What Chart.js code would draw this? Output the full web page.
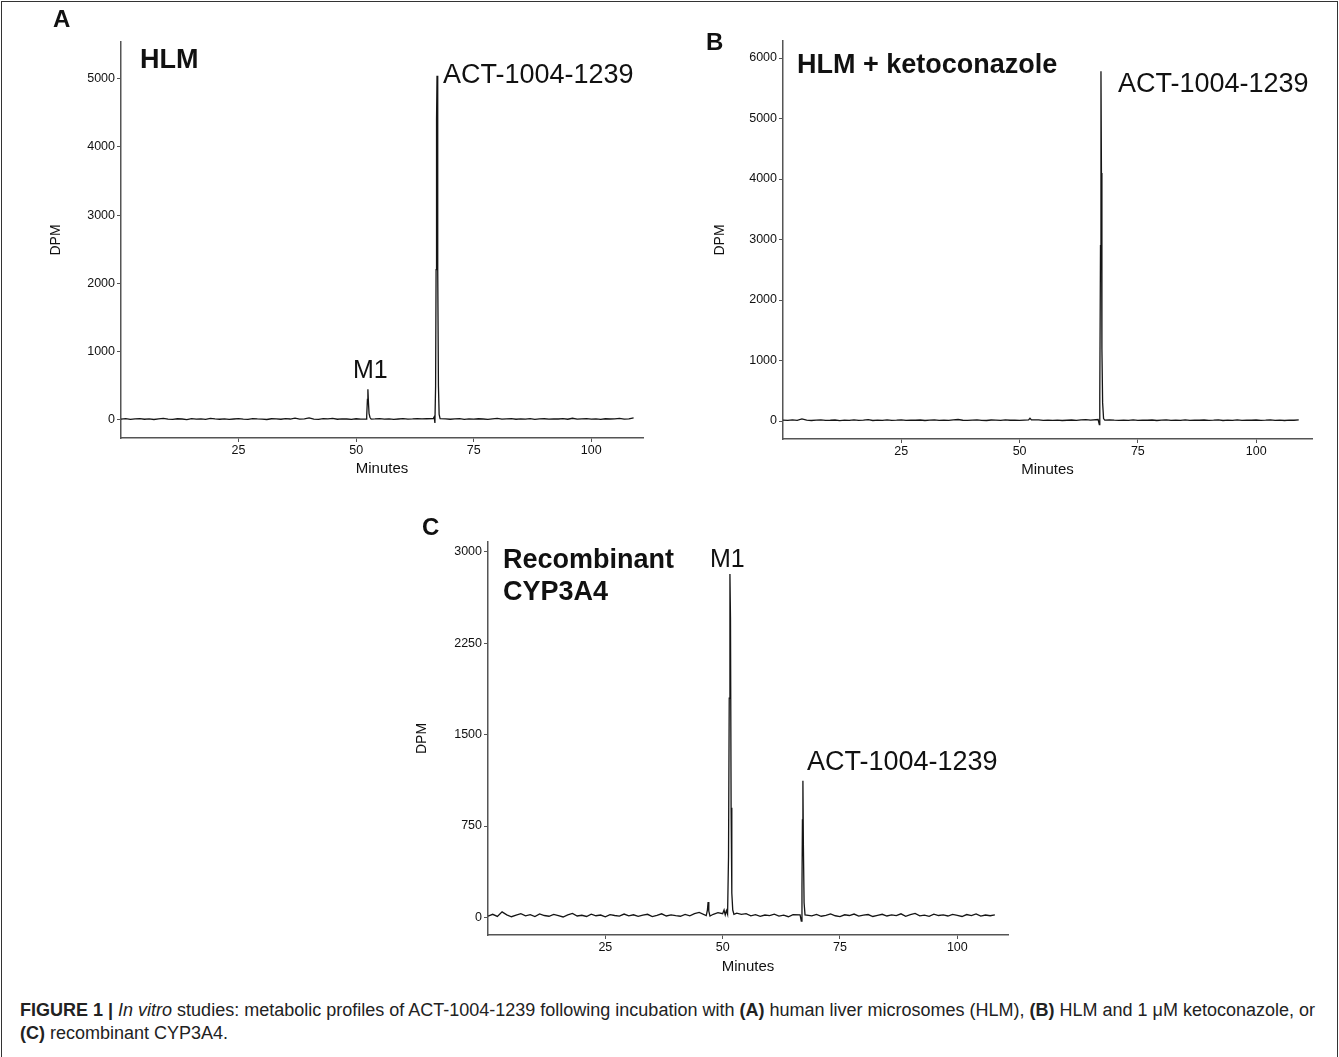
<!DOCTYPE html>
<html>
<head>
<meta charset="utf-8">
<title>Figure 1 - metabolic profiles</title>
<script src="https://cdn.jsdelivr.net/npm/chart.js"></script>
<style>
    body {
        margin: 0;
        background: #fff;
        width: 1339px;
        height: 1057px;
        overflow: hidden;
        position: relative;
        font-family: "Liberation Sans", Arial, sans-serif;
    }

    .frame {
        position: absolute;
        left: 1px;
        top: 1px;
        width: 1335px;
        height: 1100px;
        border: 1px solid #333;
        border-bottom: none;
    }

    canvas {
        position: absolute;
    }

    .caption {
        position: absolute;
        left: 20px;
        top: 999px;
        white-space: nowrap;
        font-size: 18px;
        line-height: 23px;
        color: #222;
    }
</style>
</head>

<body>
    <div class="frame"></div>
    <canvas id="chartA" width="630" height="480" style="left:30px; top:5px"></canvas>
    <canvas id="chartB" width="640" height="460" style="left:690px; top:25px"></canvas>
    <canvas id="chartC" width="610" height="475" style="left:410px; top:505px"></canvas>
    <div class="caption"><b>FIGURE 1 |</b> <i>In vitro</i> studies: metabolic profiles of ACT-1004-1239 following incubation with <b>(A)</b> human liver microsomes (HLM), <b>(B)</b> HLM and 1 μM ketoconazole, or<br><b>(C)</b> recombinant CYP3A4.</div>
</body>
<script>
    // tick labels
    const minuteTicks = [25, 50, 75, 100]
    const dpmTicksA = [0, 1000, 2000, 3000, 4000, 5000]
    const dpmTicksB = [0, 1000, 2000, 3000, 4000, 5000, 6000]
    const dpmTicksC = [0, 750, 1500, 2250, 3000]

    // baseline DPM read at every minute (0, 1, 2, ...)
    const baselineA = [
        12, 18, 8, 15, 20, 10, 14, 6, 16, 22,
        11, 9, 17, 13, 5, 19, 12, 15, 8, 21,
        14, 10, 16, 7, 13, 18, 11, 9, 20, 15,
        12, 6, 17, 14, 10, 19, 13, 25, 11, 16,
        30, 12, 9, 18, 14, 22, 10, 15, 13, 8,
        17, 12, 15, 10, 14, 19, 11, 16, 9, 13,
        18, 12, 15, 20, 14, 17, 22, 15, 12, 16,
        10, 14, 19, 9, 15, 12, 17, 13, 8, 16,
        21, 11, 14, 18, 10, 15, 12, 19, 9, 14,
        17, 11, 16, 13, 20, 10, 24, 12, 15, 18,
        11, 14, 9, 17, 13, 16, 22, 12, 15, 30
    ]
    const baselineB = [
        15, 10, 18, 12, 35, 14, 9, 16, 20, 11,
        13, 17, 8, 15, 12, 19, 10, 14, 22, 9,
        16, 12, 18, 11, 14, 20, 10, 15, 13, 17,
        9, 14, 19, 12, 16, 10, 18, 25, 13, 11,
        15, 20, 12, 9, 17, 14, 11, 18, 13, 16,
        12, 15, 25, 18, 18, 10, 14, 12, 16, 9,
        13, 17, 11, 20, 24, 15, 22, 15, 18, 20,
        14, 10, 16, 12, 19, 11, 15, 13, 17, 9,
        14, 18, 11, 16, 12, 20, 10, 15, 13, 17,
        11, 14, 19, 9, 16, 12, 18, 10, 15, 13,
        17, 11, 14, 20, 12, 16, 9, 15, 13, 18
    ]
    const baselineC = [
        10, 25, 8, 45, 20, 5, 18, 30, 12, 22,
        6, 28, 15, 9, 24, 14, 3, 20, 32, 11,
        17, 7, 26, 13, 19, 4, 22, 15, 10, 27,
        12, 21, 8, 18, 25, 6, 16, 29, 11, 20,
        14, 9, 24, 12, 30, 40, 35, 20, 25, 38,
        45, 30, 30, 35, 25, 30, 12, 22, 8, 19,
        14, 26, 10, 18, 5, 23, 15, 20, 20, 12,
        24, 9, 17, 28, 13, 6, 21, 15, 27, 10,
        18, 23, 7, 16, 25, 11, 20, 14, 29, 9,
        22, 32, 12, 18, 8, 26, 15, 20, 11, 24,
        17, 7, 23, 14, 28, 10, 19, 13, 21
    ]

    // peaks: [minutes, DPM]
    const peaksA = [
        [52.1, 10], [52.25, 60], [52.4, 300], [52.5, 450], [52.62, 250], [52.75, 90], [52.95, 35], [53.2, 12],
        [66.4, 20], [66.6, 45], [66.75, -45], [66.9, 500], [67.0, 2200], [67.1, 4400], [67.2, 5040],
        [67.3, 4200], [67.4, 2200], [67.5, 500], [67.65, 80], [67.85, 20]
    ]
    const peaksB = [
        [51.9, 18], [52.2, 45], [52.5, 20],
        [66.6, 25], [66.85, -60], [66.95, 400], [67.1, 2900], [67.2, 5780], [67.3, 4100],
        [67.4, 1200], [67.55, 300], [67.75, 40], [68.0, 15]
    ]
    const peaksC = [
        [46.5, 15], [46.75, 60], [46.9, 125], [47.05, 50], [47.3, 10],
        [50.0, 30], [50.3, 60], [50.55, 20], [50.8, 55], [51.05, 25], [51.25, 500], [51.4, 1800],
        [51.55, 2820], [51.67, 2450], [51.8, 900], [51.95, 200], [52.15, 60], [52.4, 25],
        [66.5, 20], [66.75, -30], [66.9, 250], [67.0, 800], [67.1, 1122], [67.2, 600], [67.35, 120], [67.55, 20]
    ]

    const buildTrace = (baseline, peaks) => {
        const pts = []
        baseline.forEach((v, minute) => {
            if (!peaks.some(p => Math.abs(p[0] - minute) < 0.6)) pts.push({ x: minute, y: v })
        })
        peaks.forEach(p => pts.push({ x: p[0], y: p[1] }))
        return pts.sort((a, b) => a.x - b.x)
    }

    // draws the panel letters and peak names
    const panelText = {
        id: 'panelText',
        afterDraw(chart, args, opts) {
            const ctx = chart.ctx
            ctx.save()
            ctx.fillStyle = '#111'
            ctx.textBaseline = 'alphabetic'
            ctx.textAlign = 'left'
            for (const l of opts.labels || []) {
                ctx.font = l.font
                ctx.fillText(l.text, l.x, l.y)
            }
            ctx.restore()
        }
    }

    const FONT = '"Liberation Sans", Arial, sans-serif'
    const bold = size => 'bold ' + size + 'px ' + FONT
    const plain = size => size + 'px ' + FONT

    const makeChart = (id, points, o) => {
        const ctx = document.getElementById(id).getContext('2d')
        return new Chart(ctx, {
            type: 'line',
            data: {
                datasets: [{
                    data: points,
                    borderColor: '#151515',
                    borderWidth: 1.3,
                    pointRadius: 0,
                    tension: 0
                }]
            },
            options: {
                responsive: false,
                animation: false,
                layout: { padding: { top: o.padTop, right: o.padRight, left: 0, bottom: 0 } },
                plugins: {
                    legend: { display: false },
                    tooltip: { enabled: false },
                    panelText: { labels: o.labels }
                },
                scales: {
                    x: {
                        type: 'linear',
                        min: 0,
                        max: o.xMax,
                        afterBuildTicks: s => { s.ticks = minuteTicks.map(v => ({ value: v })) },
                        afterFit: s => { s.height = o.xHeight },
                        grid: { drawOnChartArea: false, tickLength: 4, color: '#555' },
                        border: { color: '#555', width: 1.5 },
                        ticks: { color: '#111', padding: 1, maxRotation: 0, font: { family: FONT, size: 12.5 } },
                        title: {
                            display: true, text: 'Minutes', color: '#111',
                            font: { family: FONT, size: 15 },
                            padding: { top: 0, bottom: o.xTitlePad }
                        }
                    },
                    y: {
                        min: o.yMin,
                        max: o.yMax,
                        afterBuildTicks: s => { s.ticks = o.yTicks.map(v => ({ value: v })) },
                        afterFit: s => { s.width = o.yWidth },
                        grid: { drawOnChartArea: false, tickLength: 4, color: '#555' },
                        border: { color: '#555', width: 1.5 },
                        ticks: { color: '#111', padding: 2, callback: v => String(v), font: { family: FONT, size: 12.5 } },
                        title: {
                            display: true, text: 'DPM', color: '#111',
                            font: { family: FONT, size: 14 },
                            padding: { top: o.yTitlePad, bottom: 0 }
                        }
                    }
                }
            },
            plugins: [panelText]
        })
    }

    makeChart('chartA', buildTrace(baselineA, peaksA), {
        xMax: 111, yMin: -265, yMax: 5535, yTicks: dpmTicksA,
        padTop: 37, padRight: 17, yWidth: 91, xHeight: 47,
        xTitlePad: 7, yTitlePad: 18,
        labels: [
            { text: 'A', x: 23, y: 22, font: bold(24) },
            { text: 'HLM', x: 110, y: 63, font: bold(27) },
            { text: 'ACT-1004-1239', x: 413, y: 78, font: plain(27) },
            { text: 'M1', x: 323, y: 373, font: plain(25) }
        ]
    })

    makeChart('chartB', buildTrace(baselineB, peaksB), {
        xMax: 111.8, yMin: -297, yMax: 6281, yTicks: dpmTicksB,
        padTop: 16, padRight: 18, yWidth: 93, xHeight: 46,
        xTitlePad: 6, yTitlePad: 22,
        labels: [
            { text: 'B', x: 16, y: 25, font: bold(24) },
            { text: 'HLM + ketoconazole', x: 107, y: 48, font: bold(27) },
            { text: 'ACT-1004-1239', x: 428, y: 67, font: plain(27) }
        ]
    })

    makeChart('chartC', buildTrace(baselineC, peaksC), {
        xMax: 110.8, yMin: -145, yMax: 3082, yTicks: dpmTicksC,
        padTop: 37, padRight: 12, yWidth: 78, xHeight: 45,
        xTitlePad: 4, yTitlePad: 4,
        labels: [
            { text: 'C', x: 12, y: 30, font: bold(24) },
            { text: 'Recombinant', x: 93, y: 63, font: bold(27) },
            { text: 'CYP3A4', x: 93, y: 95, font: bold(27) },
            { text: 'M1', x: 300, y: 62, font: plain(25) },
            { text: 'ACT-1004-1239', x: 397, y: 265, font: plain(27) }
        ]
    })
</script>
</html>
